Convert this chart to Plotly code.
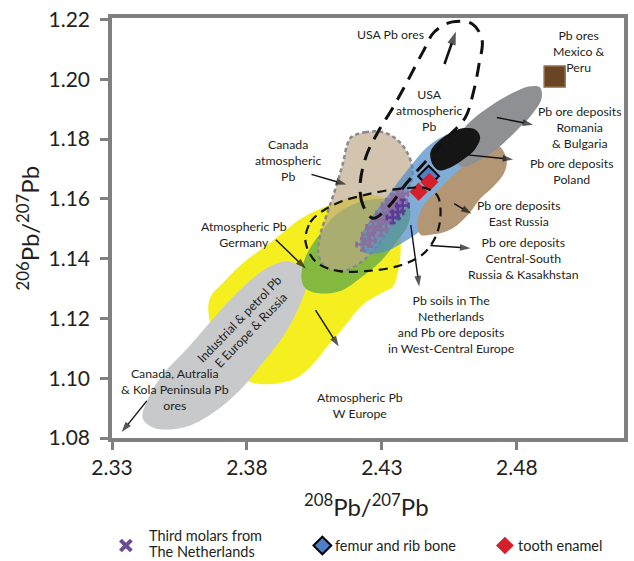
import plotly.graph_objects as go

# ---------------------------------------------------------------
# Isotope field outlines (208Pb/207Pb, 206Pb/207Pb)
# ---------------------------------------------------------------
w_europe_x = [2.3660, 2.3715, 2.3789, 2.3892, 2.4002, 2.4101, 2.4212, 2.4304, 2.4359, 2.4370, 2.4362,
              2.4340, 2.4296, 2.4223, 2.4164, 2.4101, 2.4046, 2.3980, 2.3881, 2.3807, 2.3752, 2.3679]
w_europe_y = [1.1261, 1.1323, 1.1388, 1.1457, 1.1535, 1.1578, 1.1610, 1.1604, 1.1545, 1.1447, 1.1365,
              1.1306, 1.1284, 1.1241, 1.1176, 1.1110, 1.1048, 1.0999, 1.0980, 1.0989, 1.1038, 1.1136]

ind_petrol_x = [2.3954, 2.4010, 2.4021, 2.3991, 2.3936, 2.3855, 2.3771, 2.3671, 2.3568, 2.3458, 2.3414,
                2.3429, 2.3488, 2.3576, 2.3671, 2.3771, 2.3881]
ind_petrol_y = [1.1391, 1.1365, 1.1316, 1.1235, 1.1143, 1.1048, 1.0957, 1.0882, 1.0836, 1.0833, 1.0865,
                1.0924, 1.1012, 1.1097, 1.1195, 1.1293, 1.1372]

germany_x = [2.4002, 2.4010, 2.4035, 2.4076, 2.4127, 2.4201, 2.4285, 2.4359, 2.4403, 2.4396, 2.4359,
             2.4296, 2.4230, 2.4149, 2.4065, 2.4017]
germany_y = [1.1333, 1.1388, 1.1437, 1.1489, 1.1545, 1.1584, 1.1600, 1.1594, 1.1568, 1.1512, 1.1463,
             1.1391, 1.1342, 1.1293, 1.1284, 1.1300]

canada_atm_x = [2.4186, 2.4238, 2.4304, 2.4359, 2.4396, 2.4414, 2.4396, 2.4359, 2.4322, 2.4278, 2.4223,
                2.4157, 2.4090, 2.4065, 2.4072, 2.4101, 2.4131, 2.4157, 2.4171]
canada_atm_y = [1.1806, 1.1823, 1.1823, 1.1796, 1.1751, 1.1692, 1.1627, 1.1561, 1.1496, 1.1437, 1.1388,
                1.1359, 1.1372, 1.1414, 1.1480, 1.1561, 1.1643, 1.1725, 1.1780]

usa_atm_x = [2.4230, 2.4219, 2.4256, 2.4322, 2.4396, 2.4469, 2.4543, 2.4616, 2.4682, 2.4697, 2.4671,
             2.4616, 2.4543, 2.4469, 2.4377, 2.4304]
usa_atm_y = [1.1421, 1.1463, 1.1529, 1.1610, 1.1698, 1.1774, 1.1816, 1.1832, 1.1823, 1.1774, 1.1708,
             1.1643, 1.1578, 1.1512, 1.1453, 1.1421]

east_russia_x = [2.4726, 2.4752, 2.4763, 2.4752, 2.4715, 2.4664, 2.4627, 2.4579, 2.4532, 2.4480, 2.4443,
                 2.4432, 2.4462, 2.4524, 2.4587, 2.4653]
east_russia_y = [1.1780, 1.1757, 1.1725, 1.1685, 1.1643, 1.1600, 1.1555, 1.1512, 1.1489, 1.1480, 1.1480,
                 1.1525, 1.1588, 1.1643, 1.1698, 1.1745]

romania_x = [2.4561, 2.4579, 2.4635, 2.4708, 2.4782, 2.4844, 2.4885, 2.4892, 2.4855, 2.4793, 2.4726,
             2.4653, 2.4598]
romania_y = [1.1741, 1.1806, 1.1865, 1.1914, 1.1953, 1.1976, 1.1973, 1.1937, 1.1881, 1.1823, 1.1767,
             1.1725, 1.1708]

poland_x = [2.4488, 2.4480, 2.4506, 2.4550, 2.4598, 2.4646, 2.4664, 2.4646, 2.4605, 2.4554, 2.4513]
poland_y = [1.1715, 1.1757, 1.1790, 1.1819, 1.1836, 1.1832, 1.1806, 1.1767, 1.1734, 1.1705, 1.1695]

usa_ores_x = [2.4267, 2.4230, 2.4219, 2.4241, 2.4285, 2.4340, 2.4396, 2.4451, 2.4495, 2.4561, 2.4635,
              2.4671, 2.4660, 2.4638, 2.4609, 2.4543, 2.4462, 2.4388, 2.4329]
usa_ores_y = [1.1535, 1.1578, 1.1643, 1.1741, 1.1823, 1.1904, 1.1996, 1.2090, 1.2159, 1.2192, 1.2185,
              1.2133, 1.2051, 1.1953, 1.1872, 1.1806, 1.1725, 1.1649, 1.1578]

nl_soils_x = [2.4017, 2.4035, 2.4083, 2.4149, 2.4223, 2.4311, 2.4396, 2.4462, 2.4506, 2.4517, 2.4499,
              2.4451, 2.4359, 2.4249, 2.4138, 2.4057]
nl_soils_y = [1.1457, 1.1522, 1.1561, 1.1591, 1.1610, 1.1627, 1.1636, 1.1636, 1.1610, 1.1545, 1.1473,
              1.1414, 1.1375, 1.1359, 1.1359, 1.1388]

# ---------------------------------------------------------------
# Measured samples
# ---------------------------------------------------------------
molars_x = [2.4230, 2.4249, 2.4267, 2.4285, 2.4256, 2.4304, 2.4322, 2.4340, 2.4359, 2.4377,
            2.4329, 2.4296, 2.4351, 2.4315, 2.4370]
molars_y = [1.1447, 1.1480, 1.1506, 1.1529, 1.1460, 1.1551, 1.1578, 1.1594, 1.1610, 1.1617,
            1.1545, 1.1496, 1.1568, 1.1519, 1.1591]
molars_xerr = [0.0024, 0.0022, 0.0024, 0.0022, 0.0020, 0.0024, 0.0022, 0.0024, 0.0022, 0.0020,
               0.0024, 0.0022, 0.0020, 0.0024, 0.0022]
molars_yerr = [0.0020, 0.0021, 0.0019, 0.0021, 0.0020, 0.0019, 0.0021, 0.0020, 0.0019, 0.0020,
               0.0021, 0.0019, 0.0020, 0.0021, 0.0019]

molars_dark_x = [2.4340, 2.4359, 2.4377]
molars_dark_y = [1.1538, 1.1555, 1.1578]
molars_dark_xerr = [0.0022, 0.0020, 0.0022]
molars_dark_yerr = [0.0019, 0.0020, 0.0019]

femur_x = [2.4473]
femur_y = [1.1676]

enamel_x = [2.4436, 2.4476]
enamel_y = [1.1624, 1.1656]

mexico_peru_x = [2.4940]
mexico_peru_y = [1.2009]

# pointer arrows: tail (x0, y0) -> head (x1, y1)
pointer_x0 = [2.4726, 2.4616, 2.4568, 2.4480, 2.4407, 2.4054, 2.3907, 2.4039, 2.3429]
pointer_y0 = [1.1872, 1.1747, 1.1584, 1.1444, 1.1512, 1.1228, 1.1463, 1.1682, 1.0924]
pointer_x1 = [2.4860, 2.4786, 2.4632, 2.4628, 2.4438, 2.4140, 2.4018, 2.4168, 2.3336]
pointer_y1 = [1.1848, 1.1732, 1.1550, 1.1435, 1.1307, 1.1106, 1.1367, 1.1648, 1.0820]

usa_ores_arrow_x = [2.4532, 2.4574]
usa_ores_arrow_y = [1.2051, 1.2160]

x_ticks = [2.33, 2.38, 2.43, 2.48]
y_ticks = [1.08, 1.10, 1.12, 1.14, 1.16, 1.18, 1.20, 1.22]

FONT = "Lato"
INK = "#231f20"
AXIS = "#808080"

fig = go.Figure()


def field(xs, ys, fill, line_color=None, line_width=0, dash=None):
    xs = list(xs) + [xs[0]]
    ys = list(ys) + [ys[0]]
    line = dict(shape="spline", smoothing=1.0, width=line_width,
                color=line_color if line_color else fill)
    if dash:
        line["dash"] = dash
    fig.add_trace(go.Scatter(x=xs, y=ys, mode="lines", fill="toself", fillcolor=fill,
                             line=line, hoverinfo="skip", showlegend=False))


def outline(xs, ys, color, width, dash):
    xs = list(xs) + [xs[0]]
    ys = list(ys) + [ys[0]]
    fig.add_trace(go.Scatter(x=xs, y=ys, mode="lines",
                             line=dict(shape="spline", smoothing=1.0, width=width,
                                       color=color, dash=dash),
                             hoverinfo="skip", showlegend=False))


def pointer(xs, ys, width=1.4, head=11):
    fig.add_trace(go.Scatter(x=xs, y=ys, mode="lines+markers",
                             line=dict(color="#111111", width=width),
                             marker=dict(symbol="arrow", angleref="previous", size=[0, head],
                                         color="#111111", line=dict(width=0)),
                             hoverinfo="skip", showlegend=False))


field(w_europe_x, w_europe_y, "#f5ef1f")
field(ind_petrol_x, ind_petrol_y, "#c8c9cb")
field(germany_x, germany_y, "#84b940")
field(canada_atm_x, canada_atm_y, "rgba(188,168,135,0.68)", line_color="#8a8a8a",
      line_width=2.5, dash="4px,3px")
field(usa_atm_x, usa_atm_y, "rgba(80,140,200,0.72)")
field(east_russia_x, east_russia_y, "#b39774")
field(romania_x, romania_y, "#8e9093")
field(poland_x, poland_y, "#151515")

# third molars: error-bar crosses
for xs, ys, ex, ey, col in [
    (molars_x, molars_y, molars_xerr, molars_yerr, "#8a6f9f"),
    (molars_dark_x, molars_dark_y, molars_dark_xerr, molars_dark_yerr, "#5a3c96"),
]:
    fig.add_trace(go.Scatter(
        x=xs, y=ys, mode="markers",
        marker=dict(size=3, color=col),
        error_x=dict(type="data", array=ex, color=col, thickness=2.5, width=3),
        error_y=dict(type="data", array=ey, color=col, thickness=2.5, width=3),
        hoverinfo="skip", showlegend=False))

fig.add_trace(go.Scatter(x=femur_x, y=femur_y, mode="markers",
                         marker=dict(symbol="diamond", size=16, color="#4f7fc4",
                                     line=dict(color="black", width=2)),
                         hoverinfo="skip", showlegend=False))
fig.add_trace(go.Scatter(x=enamel_x, y=enamel_y, mode="markers",
                         marker=dict(symbol="diamond", size=14, color="#d3202b",
                                     line=dict(width=0)),
                         hoverinfo="skip", showlegend=False))
fig.add_trace(go.Scatter(x=mexico_peru_x, y=mexico_peru_y, mode="markers",
                         marker=dict(symbol="square", size=21, color="#6b4523",
                                     line=dict(color="#8f6d48", width=1.5)),
                         hoverinfo="skip", showlegend=False))

outline(usa_ores_x, usa_ores_y, "#111111", 3, "14px,9px")
outline(nl_soils_x, nl_soils_y, "#111111", 2.2, "9px,6px")

pointer(usa_ores_arrow_x, usa_ores_arrow_y, width=2.6, head=14)
for x0, y0, x1, y1 in zip(pointer_x0, pointer_y0, pointer_x1, pointer_y1):
    pointer([x0, x1], [y0, y1])

annotations = []
LABEL_FONT = dict(family=FONT, size=12.3, color=INK)


def label(lines, x, y):
    annotations.append(dict(x=x, y=y, xref="x", yref="y", text="<br>".join(lines),
                            showarrow=False, align="center", xanchor="center",
                            yanchor="middle", font=LABEL_FONT))


label(["USA Pb ores"], 2.4333, 1.2149)
label(["Pb ores", "Mexico &", "Peru"], 2.5032, 1.2094)
label(["USA", "atmospheric", "Pb"], 2.4476, 1.1894)
label(["Pb ore deposits", "Romania", "& Bulgaria"], 2.5032, 1.1839)
label(["Pb ore deposits", "Poland"], 2.5002, 1.1692)
label(["Pb ore deposits", "East Russia"], 2.4807, 1.1551)
label(["Pb ore deposits", "Central-South", "Russia & Kasakhstan"], 2.4826, 1.1401)
label(["Pb soils in The", "Netherlands", "and Pb ore deposits", "in West-Central Europe"],
      2.4557, 1.1179)
label(["Atmospheric Pb", "W Europe"], 2.4219, 1.0909)
label(["Atmospheric Pb", "Germany"], 2.3789, 1.1480)
label(["Canada", "atmospheric", "Pb"], 2.3954, 1.1728)
label(["Canada, Autralia", "& Kola Peninsula Pb", "ores"], 2.3532, 1.0963)

annotations.append(dict(x=2.3794, y=1.1179, xref="x", yref="y",
                        text="Industrial & petrol Pb<br>E Europe & Russia", showarrow=False,
                        textangle=-46, font=LABEL_FONT))

# axis titles
TITLE_FONT = dict(family=FONT, size=24, color=INK)
annotations.append(dict(x=0.497, y=-0.160, xref="paper", yref="paper", showarrow=False,
                        xanchor="center", yanchor="middle",
                        text="<sup>208</sup>Pb/<sup>207</sup>Pb", font=TITLE_FONT))
annotations.append(dict(x=-0.165, y=0.5, xref="paper", yref="paper", showarrow=False,
                        xanchor="center", yanchor="middle", textangle=-90,
                        text="<sup>206</sup>Pb/<sup>207</sup>Pb", font=TITLE_FONT))

# legend
LEG = dict(family=FONT, size=14.5, color=INK)
annotations += [
    dict(x=0.068, y=-0.2325, xref="paper", yref="paper", xanchor="left", yanchor="middle",
         showarrow=False, text="Third molars from", font=LEG),
    dict(x=0.068, y=-0.2700, xref="paper", yref="paper", xanchor="left", yanchor="middle",
         showarrow=False, text="The Netherlands", font=LEG),
    dict(x=0.432, y=-0.2560, xref="paper", yref="paper", xanchor="left", yanchor="middle",
         showarrow=False, text="femur and rib bone", font=LEG),
    dict(x=0.790, y=-0.2560, xref="paper", yref="paper", xanchor="left", yanchor="middle",
         showarrow=False, text="tooth enamel", font=LEG),
]
shapes = [
    dict(type="line", xref="paper", yref="paper", x0=0.0165, y0=-0.2430, x1=0.0378, y1=-0.2686,
         line=dict(color="#6a4c93", width=4)),
    dict(type="line", xref="paper", yref="paper", x0=0.0165, y0=-0.2686, x1=0.0378, y1=-0.2430,
         line=dict(color="#6a4c93", width=4)),
    dict(type="path", xref="paper", yref="paper",
         path="M 0.4109,-0.2351 L 0.4283,-0.2560 L 0.4109,-0.2769 L 0.3935,-0.2560 Z",
         fillcolor="#4f7fc4", line=dict(color="black", width=2)),
    dict(type="path", xref="paper", yref="paper",
         path="M 0.7674,-0.2351 L 0.7848,-0.2560 L 0.7674,-0.2769 L 0.7500,-0.2560 Z",
         fillcolor="#d3202b", line=dict(width=0)),
]

axis_common = dict(showgrid=False, zeroline=False, showline=True, linecolor=AXIS, linewidth=3.5,
                   mirror=True, ticks="outside", ticklen=8, tickwidth=3, tickcolor=AXIS,
                   ticklabeloverflow="allow",
                   tickfont=dict(family=FONT, size=21, color=INK))

fig.update_layout(
    width=634, height=561,
    margin=dict(l=112, r=6, t=8, b=123),
    paper_bgcolor="white", plot_bgcolor="white",
    xaxis=dict(range=[2.33, 2.5197], tickvals=x_ticks,
               ticktext=[f"{v:.2f}" for v in x_ticks], **axis_common),
    yaxis=dict(range=[1.08, 1.2205], tickvals=y_ticks, ticklabelstandoff=6,
               ticktext=[f"{v:.2f}" for v in y_ticks], **axis_common),
    annotations=annotations,
    shapes=shapes,
    showlegend=False,
)

fig.write_html("out.html")
